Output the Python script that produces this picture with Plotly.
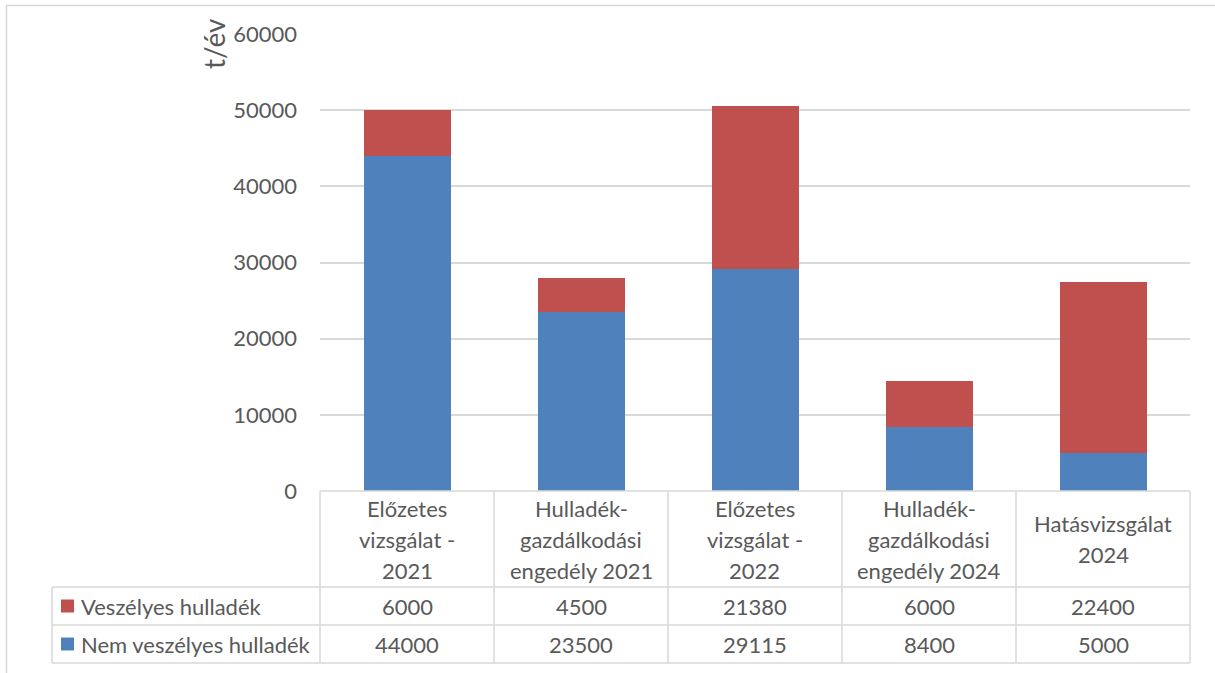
import plotly.graph_objects as go

# Categories (line breaks as they appear in the data table header)
categories = [
    "Előzetes<br>vizsgálat -<br>2021",
    "Hulladék-<br>gazdálkodási<br>engedély 2021",
    "Előzetes<br>vizsgálat -<br>2022",
    "Hulladék-<br>gazdálkodási<br>engedély 2024",
    "Hatásvizsgálat<br>2024",
]
nem_veszelyes = [44000, 23500, 29115, 8400, 5000]
veszelyes = [6000, 4500, 21380, 6000, 22400]
series_names = ["Veszélyes hulladék", "Nem veszélyes hulladék"]
y_ticks = [0, 10000, 20000, 30000, 40000, 50000, 60000]

W, H = 1215, 673
BLUE = "#4f81bd"
RED = "#c0504d"
GRID = "#d9d9d9"
TXT = "#595959"
FONT = "Lato"
FS = 22

# plot area in pixels
PX0, PX1 = 320, 1190
PY0, PY1 = 34, 491  # top, bottom
ROW1, ROW2, ROW3 = 587, 625, 663
LEG_X0 = 52


def px(x):
    return x / W


def py(y):
    return 1 - y / H


fig = go.Figure()
fig.add_trace(go.Bar(x=list(range(len(categories))), y=nem_veszelyes, name=series_names[1],
                     marker=dict(color=BLUE, line=dict(width=0)), width=0.5))
fig.add_trace(go.Bar(x=list(range(len(categories))), y=veszelyes, name=series_names[0],
                     marker=dict(color=RED, line=dict(width=0)), width=0.5))

shapes = []
annotations = []


def hline(x0, x1, y, color=GRID, w=1.5):
    shapes.append(dict(type="line", xref="paper", yref="paper", x0=px(x0), x1=px(x1),
                       y0=py(y), y1=py(y), line=dict(color=color, width=w)))


def vline(x, y0, y1, color=GRID, w=1.5):
    shapes.append(dict(type="line", xref="paper", yref="paper", x0=px(x), x1=px(x),
                       y0=py(y0), y1=py(y1), line=dict(color=color, width=w)))


# outer chart frame
hline(6, W, 5.5, w=1.5)
vline(6.5, 5, H, w=1.5)

# data table grid
n = len(categories)
colw = (PX1 - PX0) / n
hline(PX0, PX1, PY1)
for yy in (ROW1, ROW2, ROW3):
    hline(LEG_X0, PX1, yy)
vline(LEG_X0, ROW1, ROW3)
for i in range(n + 1):
    vline(PX0 + i * colw, PY1, ROW3)

# category header text
line_h = 31
mid = (PY1 + ROW1) / 2
for i, cat in enumerate(categories):
    lines = cat.split("<br>")
    cx = PX0 + (i + 0.5) * colw
    start = mid - (len(lines) - 1) * line_h / 2
    for k, ln in enumerate(lines):
        annotations.append(dict(xref="paper", yref="paper", x=px(cx), y=py(start + k * line_h),
                                text=ln, showarrow=False, xanchor="center", yanchor="middle",
                                font=dict(family=FONT, size=FS, color=TXT)))

# value rows with legend keys
rows = [(series_names[0], veszelyes, RED, (ROW1 + ROW2) / 2),
        (series_names[1], nem_veszelyes, BLUE, (ROW2 + ROW3) / 2)]
for name, vals, color, yc in rows:
    shapes.append(dict(type="rect", xref="paper", yref="paper",
                       x0=px(61), x1=px(74), y0=py(yc + 6.5), y1=py(yc - 6.5),
                       fillcolor=color, line=dict(width=0)))
    annotations.append(dict(xref="paper", yref="paper", x=px(79), y=py(yc), text=name,
                            showarrow=False, xanchor="left", yanchor="middle",
                            font=dict(family=FONT, size=FS, color=TXT)))
    for i, v in enumerate(vals):
        annotations.append(dict(xref="paper", yref="paper", x=px(PX0 + (i + 0.5) * colw), y=py(yc),
                                text=str(v), showarrow=False, xanchor="center", yanchor="middle",
                                font=dict(family=FONT, size=FS, color=TXT)))

# axis title
annotations.append(dict(xref="paper", yref="paper", x=px(214), y=py(44), text="t/év",
                        textangle=-90, showarrow=False, xanchor="center", yanchor="middle",
                        font=dict(family=FONT, size=28, color=TXT)))

fig.update_layout(
    width=W, height=H,
    margin=dict(l=0, r=0, t=0, b=0, pad=0, autoexpand=False),
    paper_bgcolor="white", plot_bgcolor="white",
    barmode="stack", showlegend=False,
    shapes=shapes, annotations=annotations,
    xaxis=dict(domain=[px(PX0), px(PX1)], range=[-0.5, n - 0.5], showticklabels=False,
               showgrid=False, zeroline=False, showline=False, fixedrange=True,
               automargin=False),
    yaxis=dict(domain=[py(PY1), py(PY0)], range=[0, 60000], tickvals=y_ticks,
               tickformat="d",
               showgrid=True, gridcolor=GRID, gridwidth=1.5, zeroline=False, showline=False,
               tickfont=dict(family=FONT, size=FS, color=TXT), ticks="",
               ticklabelstandoff=22, fixedrange=True, automargin=False),
    font=dict(family=FONT, color=TXT),
)

fig.write_html("out.html")
